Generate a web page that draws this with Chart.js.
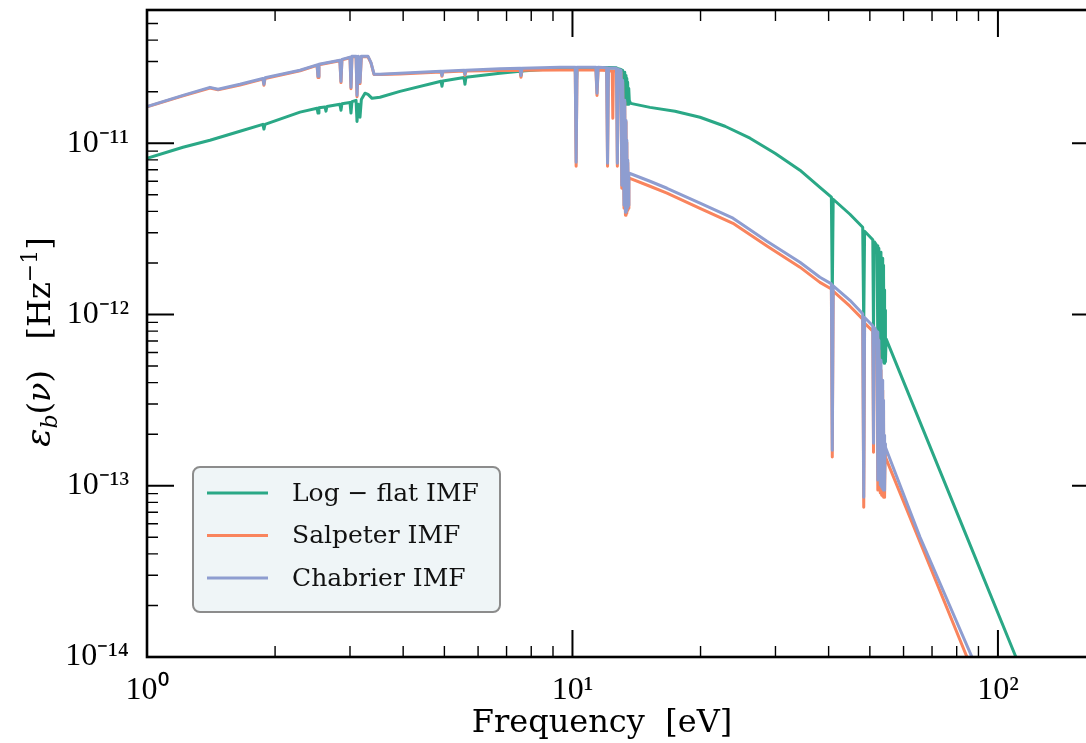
<!DOCTYPE html>
<html>
<head>
<meta charset="utf-8">
<script src="https://cdn.jsdelivr.net/npm/chart.js@4.4.1/dist/chart.umd.min.js"></script>
<style>
html, body { margin: 0; padding: 0; background: #fff; overflow: hidden; }
#wrap { width: 1086px; height: 743px; overflow: hidden; position: relative; }
#myChart { position: absolute; left: 0; top: 0; }
</style>
</head>
<body>
<div id="wrap"><canvas id="myChart" width="1100" height="743"></canvas></div>
<script>
// photon energy [eV] and emissivity [Hz^-1]
const logFlatE = [1.0, 1.215, 1.406, 1.654, 1.872, 1.883, 1.894, 2.289, 2.51, 2.523, 2.536, 2.62, 2.634, 2.648,
    2.84, 2.857, 2.872, 3.0, 3.016, 3.032, 3.1, 3.116, 3.14, 3.167, 3.19, 3.253, 3.307, 3.38, 3.528, 3.931,
    4.91, 4.935, 4.96, 5.56, 5.589, 5.62, 6.753, 7.53, 7.568, 7.61, 9.346, 10.15, 10.2, 10.25, 11.9, 12.03,
    12.09, 12.15, 12.69, 12.75, 12.81, 13.0, 13.06, 13.12, 13.22, 13.27, 13.32, 13.36, 13.39, 13.42, 13.45,
    13.48, 13.52, 13.56, 13.6, 13.7, 15.21, 17.42, 19.94, 22.83, 26.14, 29.92, 34.25, 38.16, 40.6, 40.8, 41.0,
    44.89, 48.1, 48.37, 48.6, 50.8, 51.0, 51.2, 52.0, 52.2, 52.5, 52.9, 53.1, 53.3, 53.45, 53.6, 53.7, 53.8,
    53.9, 54.0, 54.1, 54.2, 54.3, 54.4, 54.6, 84.56, 110.2, 125];
const logFlatV = [8.17e-12, 9.48e-12, 1.041e-11, 1.175e-11, 1.29e-11, 1.21e-11, 1.29e-11, 1.52e-11, 1.60e-11, 1.50e-11, 1.61e-11, 1.63e-11, 1.54e-11, 1.64e-11,
    1.69e-11, 1.56e-11, 1.70e-11, 1.73e-11, 1.50e-11, 1.75e-11, 1.78e-11, 1.34e-11, 1.69e-11, 1.42e-11, 1.80e-11, 1.96e-11, 1.93e-11, 1.83e-11, 1.855e-11, 2.01e-11,
    2.30e-11, 2.15e-11, 2.31e-11, 2.42e-11, 2.21e-11, 2.43e-11, 2.56e-11, 2.63e-11, 2.49e-11, 2.64e-11, 2.74e-11, 2.76e-11, 2.04e-11, 2.76e-11, 2.77e-11, 2.77e-11,
    2.33e-11, 2.77e-11, 2.76e-11, 2.21e-11, 2.72e-11, 2.70e-11, 1.905e-11, 2.67e-11, 1.78e-11, 2.60e-11, 1.71e-11, 2.49e-11, 1.69e-11, 2.39e-11, 1.69e-11,
    2.27e-11, 1.69e-11, 2.09e-11, 1.78e-11, 1.71e-11, 1.62e-11, 1.538e-11, 1.419e-11, 1.257e-11, 1.07e-11, 8.74e-12, 6.96e-12, 5.53e-12, 4.84e-12, 1.30e-12, 4.71e-12,
    3.85e-12, 3.23e-12, 8.66e-13, 3.06e-12, 2.73e-12, 7.78e-13, 2.66e-12, 2.52e-12, 6.19e-13, 2.44e-12, 5.78e-13, 2.31e-12, 5.56e-13, 2.13e-12, 5.41e-13, 1.94e-12, 5.27e-13,
    1.69e-12, 5.20e-13, 1.39e-12, 5.20e-13, 1.06e-12, 5.3e-13, 7.2e-13, 5.01e-14, 1.0e-14, 4.67e-15];

const salpeterE = [1.0, 1.215, 1.406, 1.469, 1.654, 1.872, 1.883, 1.894, 2.289, 2.51, 2.523, 2.536, 2.84, 2.857, 2.872,
    3.0, 3.016, 3.032, 3.1, 3.116, 3.14, 3.167, 3.19, 3.307, 3.36, 3.417, 3.528, 3.931, 4.91, 4.935, 4.96,
    5.56, 5.589, 5.62, 6.753, 7.53, 7.568, 7.61, 9.346, 10.15, 10.2, 10.25, 11.35, 11.42, 11.49, 12.03, 12.09,
    12.15, 12.4, 12.44, 12.48, 12.69, 12.75, 12.81, 13.0, 13.06, 13.12, 13.22, 13.27, 13.32, 13.36, 13.39, 13.42,
    13.45, 13.49, 13.53, 13.57, 13.6, 15.21, 16.68, 19.94, 23.84, 24.62, 28.65, 34.25, 38.16, 40.6, 40.8, 41.0,
    44.89, 48.1, 48.37, 48.6, 50.8, 51.0, 51.2, 52.0, 52.2, 52.5, 52.9, 53.1, 53.3, 53.45, 53.6, 53.7, 53.8,
    53.9, 54.0, 54.1, 54.2, 54.3, 54.4, 64.9, 84.56, 95];
const salpeterV = [1.63e-11, 1.89e-11, 2.10e-11, 2.05e-11, 2.19e-11, 2.37e-11, 2.18e-11, 2.39e-11, 2.65e-11, 2.85e-11, 2.42e-11, 2.87e-11, 3.03e-11, 2.26e-11, 3.07e-11,
    3.16e-11, 2.08e-11, 3.20e-11, 3.20e-11, 1.87e-11, 3.20e-11, 2.23e-11, 3.20e-11, 3.20e-11, 2.95e-11, 2.52e-11, 2.52e-11, 2.54e-11, 2.61e-11, 2.46e-11, 2.61e-11,
    2.64e-11, 2.49e-11, 2.64e-11, 2.66e-11, 2.67e-11, 2.43e-11, 2.67e-11, 2.68e-11, 2.68e-11, 7.34e-12, 2.68e-11, 2.68e-11, 1.90e-11, 2.68e-11, 2.66e-11, 7.34e-12,
    2.65e-11, 2.64e-11, 1.40e-11, 2.64e-11, 2.64e-11, 7.34e-12, 2.62e-11, 2.60e-11, 5.46e-12, 2.28e-11, 4.17e-12, 1.74e-11, 3.80e-12, 1.33e-11, 3.90e-12, 1.01e-11,
    4.06e-12, 7.7e-12, 4.17e-12, 6.1e-12, 6.25e-12, 5.61e-12, 5.11e-12, 4.17e-12, 3.41e-12, 3.23e-12, 2.51e-12, 1.89e-12, 1.54e-12, 1.41e-12, 1.47e-13, 1.37e-12,
    1.118e-12, 9.4e-13, 7.50e-14, 8.9e-13, 8.0e-13, 1.57e-13, 7.7e-13, 7.3e-13, 9.43e-14, 6.19e-13, 9.06e-14, 4.73e-13, 8.81e-14, 3.61e-13, 8.7e-14, 2.76e-13, 8.58e-14,
    2.11e-13, 8.58e-14, 1.76e-13, 8.81e-14, 1.51e-13, 1.47e-13, 5.01e-14, 1.0e-14, 5.15e-15];

const chabrierE = [1.0, 1.215, 1.406, 1.469, 1.654, 1.872, 1.883, 1.894, 2.289, 2.51, 2.523, 2.536, 2.84, 2.857, 2.872,
    3.0, 3.016, 3.032, 3.1, 3.116, 3.14, 3.167, 3.19, 3.307, 3.36, 3.417, 3.528, 3.931, 4.91, 4.935, 4.96,
    5.56, 5.589, 5.62, 6.753, 7.53, 7.568, 7.61, 9.346, 10.15, 10.2, 10.25, 11.35, 11.42, 11.49, 12.03, 12.09,
    12.15, 12.69, 12.75, 12.81, 13.0, 13.06, 13.12, 13.22, 13.27, 13.32, 13.36, 13.39, 13.42,
    13.45, 13.49, 13.53, 13.57, 13.6, 15.21, 16.68, 19.94, 23.84, 24.62, 28.65, 34.25, 38.16, 40.6, 40.8, 41.0,
    44.89, 48.1, 48.37, 48.6, 50.8, 51.0, 51.2, 52.0, 52.2, 52.5, 52.9, 53.1, 53.3, 53.45, 53.6, 53.7, 53.8,
    53.9, 54.0, 54.1, 54.2, 54.3, 54.4, 65.58, 86.88, 100];
const chabrierV = [1.64e-11, 1.905e-11, 2.12e-11, 2.065e-11, 2.21e-11, 2.39e-11, 2.21e-11, 2.41e-11, 2.67e-11, 2.87e-11, 2.46e-11, 2.89e-11, 3.05e-11, 2.30e-11, 3.09e-11,
    3.18e-11, 2.12e-11, 3.22e-11, 3.22e-11, 1.905e-11, 3.22e-11, 2.27e-11, 3.22e-11, 3.22e-11, 2.97e-11, 2.53e-11, 2.53e-11, 2.56e-11, 2.63e-11, 2.49e-11, 2.63e-11,
    2.67e-11, 2.53e-11, 2.67e-11, 2.72e-11, 2.74e-11, 2.49e-11, 2.74e-11, 2.78e-11, 2.78e-11, 7.74e-12, 2.78e-11, 2.78e-11, 1.96e-11, 2.78e-11, 2.76e-11, 7.64e-12,
    2.75e-11, 2.74e-11, 7.64e-12, 2.70e-11, 2.67e-11, 5.69e-12, 2.33e-11, 4.35e-12, 1.78e-11, 3.95e-12, 1.36e-11, 4.06e-12, 1.04e-11,
    4.23e-12, 7.96e-12, 4.35e-12, 6.50e-12, 6.68e-12, 6.00e-12, 5.46e-12, 4.47e-12, 3.65e-12, 3.46e-12, 2.68e-12, 2.02e-12, 1.65e-12, 1.51e-12, 1.61e-13, 1.47e-12,
    1.21e-12, 1.01e-12, 8.58e-14, 9.6e-13, 8.6e-13, 1.77e-13, 8.4e-13, 7.9e-13, 1.08e-13, 7.08e-13, 1.01e-13, 5.41e-13, 9.81e-14, 4.13e-13, 9.6e-14, 3.16e-13, 9.43e-14,
    2.42e-13, 9.43e-14, 1.97e-13, 9.6e-14, 1.76e-13, 1.68e-13, 5.01e-14, 1.0e-14, 4.5e-15];

const seriesNames = ['Log \u2212 flat IMF', 'Salpeter IMF', 'Chabrier IMF'];
const xTickValues = [1, 10, 100];
const xTickLabels = ['10\u2070', '10\u00b9', '10\u00b2'];
const yTickValues = [1e-14, 1e-13, 1e-12, 1e-11];
const yTickLabels = ['10\u207b\u00b9\u2074', '10\u207b\u00b9\u00b3', '10\u207b\u00b9\u00b2', '10\u207b\u00b9\u00b9'];

const colors = ['#2aa886', '#f9845d', '#8e9dd0'];

function pts(es, vs) {
    return es.map((e, i) => ({ x: e, y: vs[i] }));
}

// inward ticks on all four sides, the frame, axis titles and the legend box
const framePlugin = {
    id: 'frame',
    afterDraw(chart) {
        const ctx = chart.ctx;
        const a = chart.chartArea;
        const xs = chart.scales.x, ys = chart.scales.y;
        ctx.save();
        ctx.strokeStyle = '#000';
        [1, 10, 100].forEach(d => {
            for (let m = 1; m <= 9; m++) {
                const v = m * d;
                if (v < xs.min || v > xs.max) continue;
                const px = xs.getPixelForValue(v);
                const len = m === 1 ? 27 : 11;
                ctx.lineWidth = m === 1 ? 2 : 1.4;
                ctx.beginPath();
                ctx.moveTo(px, a.bottom); ctx.lineTo(px, a.bottom - len);
                ctx.moveTo(px, a.top); ctx.lineTo(px, a.top + len);
                ctx.stroke();
            }
        });
        [1e-14, 1e-13, 1e-12, 1e-11].forEach(d => {
            for (let m = 1; m <= 9; m++) {
                const v = m * d;
                if (v < ys.min || v > ys.max * 1.0001) continue;
                const py = ys.getPixelForValue(v);
                const len = m === 1 ? 27 : 11;
                ctx.lineWidth = m === 1 ? 2 : 1.4;
                ctx.beginPath();
                ctx.moveTo(a.left, py); ctx.lineTo(a.left + len, py);
                ctx.moveTo(a.right, py); ctx.lineTo(a.right - len, py);
                ctx.stroke();
            }
        });
        ctx.lineWidth = 2.6;
        ctx.strokeRect(a.left, a.top, a.right - a.left, a.bottom - a.top);

        // x title
        ctx.fillStyle = '#000';
        ctx.font = '32px "DejaVu Serif"';
        ctx.textAlign = 'center';
        ctx.textBaseline = 'alphabetic';
        ctx.fillText('Frequency  [eV]', 602, 732);
        ctx.textAlign = 'left';

        // y title: eps_b(nu) [Hz^-1]
        const parts = [
            { t: '\u03b5', f: 'italic 34px "DejaVu Serif"', dy: 0 },
            { t: 'b', f: 'italic 22px "DejaVu Serif"', dy: 7 },
            { t: '(', f: '32px "DejaVu Serif"', dy: 0 },
            { t: '\u03bd', f: 'italic 32px "DejaVu Serif"', dy: 0 },
            { t: ')', f: '32px "DejaVu Serif"', dy: 0 },
            { t: '   [Hz', f: '32px "DejaVu Serif"', dy: 0 },
            { t: '\u22121', f: '22px "DejaVu Serif"', dy: -13 },
            { t: ']', f: '32px "DejaVu Serif"', dy: 0 }
        ];
        let total = 0;
        parts.forEach(p => { ctx.font = p.f; p.w = ctx.measureText(p.t).width; total += p.w; });
        ctx.translate(50, 342);
        ctx.rotate(-Math.PI / 2);
        let x = -total / 2;
        parts.forEach(p => { ctx.font = p.f; ctx.fillText(p.t, x, p.dy); x += p.w; });
        ctx.restore();

        // legend box inside the plot
        ctx.save();
        const bx = a.left + 46, by = a.top + 457, bw = 307, bh = 145, r = 7;
        ctx.beginPath();
        ctx.moveTo(bx + r, by);
        ctx.arcTo(bx + bw, by, bx + bw, by + bh, r);
        ctx.arcTo(bx + bw, by + bh, bx, by + bh, r);
        ctx.arcTo(bx, by + bh, bx, by, r);
        ctx.arcTo(bx, by, bx + bw, by, r);
        ctx.closePath();
        ctx.fillStyle = '#eff5f7';
        ctx.fill();
        ctx.lineWidth = 2;
        ctx.strokeStyle = '#8c8c8c';
        ctx.stroke();
        ctx.font = '25px "DejaVu Serif"';
        ctx.textBaseline = 'middle';
        chart.data.datasets.forEach((ds, i) => {
            const yy = by + 26 + i * 42.5;
            ctx.strokeStyle = ds.borderColor;
            ctx.lineWidth = 3;
            ctx.beginPath();
            ctx.moveTo(bx + 14, yy); ctx.lineTo(bx + 75, yy);
            ctx.stroke();
            ctx.fillStyle = '#111';
            ctx.fillText(ds.label, bx + 99, yy + 1);
        });
        ctx.restore();
    }
};

new Chart('myChart', {
    type: 'line',
    data: {
        datasets: [
            { label: seriesNames[0], data: pts(logFlatE, logFlatV), borderColor: colors[0], order: 2 },
            { label: seriesNames[1], data: pts(salpeterE, salpeterV), borderColor: colors[1], order: 1 },
            { label: seriesNames[2], data: pts(chabrierE, chabrierV), borderColor: colors[2], order: 0 }
        ]
    },
    options: {
        responsive: false,
        devicePixelRatio: 1,
        animation: false,
        layout: { padding: { top: 10, right: 1, left: 0, bottom: 0 } },
        elements: {
            point: { radius: 0 },
            line: { borderWidth: 3, tension: 0, borderJoinStyle: 'round', fill: false }
        },
        plugins: { legend: { display: false }, tooltip: { enabled: false } },
        scales: {
            x: {
                type: 'logarithmic',
                min: 1, max: 172.8,
                grid: { display: false },
                border: { display: false },
                afterBuildTicks: axis => { axis.ticks = xTickValues.map(v => ({ value: v })); },
                afterFit: axis => { axis.height = 86; axis.paddingLeft = 0; axis.paddingRight = 0; },
                ticks: {
                    autoSkip: false, maxRotation: 0, padding: 6, color: '#000',
                    font: { family: 'Liberation Serif', size: 32 },
                    callback: (v, i) => xTickLabels[i]
                }
            },
            y: {
                type: 'logarithmic',
                min: 1e-14, max: 6e-11,
                grid: { display: false },
                border: { display: false },
                afterBuildTicks: axis => { axis.ticks = yTickValues.map(v => ({ value: v })); },
                afterFit: axis => { axis.width = 147; axis.paddingTop = 0; axis.paddingBottom = 0; },
                ticks: {
                    autoSkip: false, padding: 10, color: '#000',
                    font: { family: 'Liberation Serif', size: 32 },
                    callback: (v, i) => yTickLabels[i]
                }
            }
        }
    },
    plugins: [framePlugin]
});
</script>
</body>
</html>
